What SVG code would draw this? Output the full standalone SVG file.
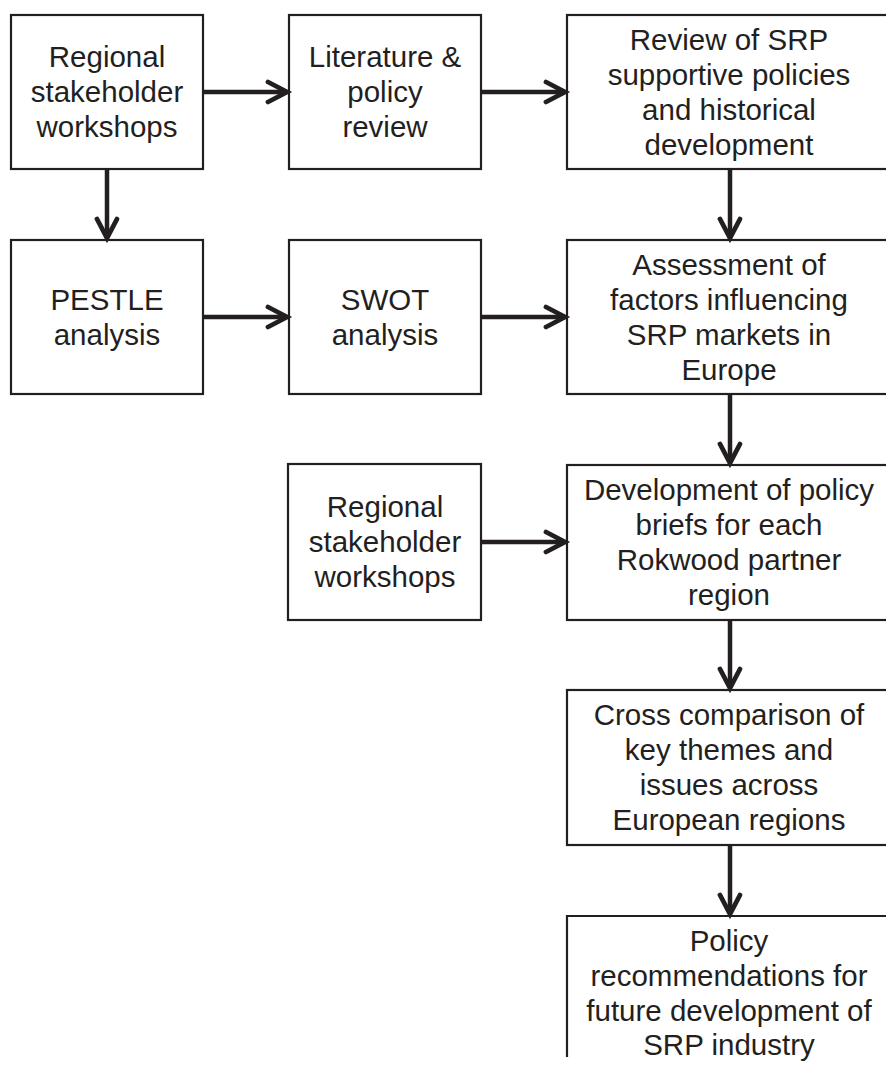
<svg xmlns="http://www.w3.org/2000/svg" width="886" height="1066" viewBox="0 0 886 1066">
<defs>
<style>
.box{fill:#fff;stroke:#231f20;stroke-width:2.2}
.t{font-family:"Liberation Sans",Arial,sans-serif;font-size:29.5px;fill:#231f20;text-anchor:middle}
.c{stroke:#231f20;stroke-width:4.5;fill:none}
.h{stroke:#231f20;stroke-width:4.8;fill:none;stroke-linecap:round;stroke-linejoin:miter}
</style>
</defs>
<rect width="886" height="1066" fill="#fff"/>
<g id="n1"><rect class="box" x="11" y="15" width="192" height="154"/>
<text class="t" x="107" y="67">Regional</text><text class="t" x="107" y="102">stakeholder</text><text class="t" x="107" y="137">workshops</text></g>
<g id="n2"><rect class="box" x="289" y="15" width="192" height="154"/>
<text class="t" x="385" y="67">Literature &amp;</text><text class="t" x="385" y="102">policy</text><text class="t" x="385" y="137">review</text></g>
<g id="n3"><rect class="box" x="567" y="15" width="330" height="154"/>
<text class="t" x="729" y="50">Review of SRP</text><text class="t" x="729" y="85">supportive policies</text><text class="t" x="729" y="120">and historical</text><text class="t" x="729" y="155">development</text></g>
<g id="n4"><rect class="box" x="11" y="240" width="192" height="154"/>
<text class="t" x="107" y="310">PESTLE</text><text class="t" x="107" y="345">analysis</text></g>
<g id="n5"><rect class="box" x="289" y="240" width="192" height="154"/>
<text class="t" x="385" y="310">SWOT</text><text class="t" x="385" y="345">analysis</text></g>
<g id="n6"><rect class="box" x="567" y="240" width="330" height="154"/>
<text class="t" x="729" y="275">Assessment of</text><text class="t" x="729" y="310">factors influencing</text><text class="t" x="729" y="345">SRP markets in</text><text class="t" x="729" y="380">Europe</text></g>
<g id="n7"><rect class="box" x="288" y="464" width="193" height="156"/>
<text class="t" x="385" y="517">Regional</text><text class="t" x="385" y="552">stakeholder</text><text class="t" x="385" y="587">workshops</text></g>
<g id="n8"><rect class="box" x="567" y="465" width="330" height="155"/>
<text class="t" x="729" y="500">Development of policy</text><text class="t" x="729" y="535">briefs for each</text><text class="t" x="729" y="570">Rokwood partner</text><text class="t" x="729" y="605">region</text></g>
<g id="n9"><rect class="box" x="567" y="690" width="330" height="155"/>
<text class="t" x="729" y="725">Cross comparison of</text><text class="t" x="729" y="760">key themes and</text><text class="t" x="729" y="795">issues across</text><text class="t" x="729" y="830">European regions</text></g>
<g id="n10"><path class="box" d="M567,1057 V916 H897 V1057" fill="none"/>
<text class="t" x="729" y="951">Policy</text><text class="t" x="729" y="986">recommendations for</text><text class="t" x="729" y="1021">future development of</text><text class="t" x="729" y="1055">SRP industry</text></g>
<g id="connectors">
<line class="c" x1="203" y1="92" x2="287" y2="92"/><path class="h" d="M268,82 L287,92 L268,102"/>
<line class="c" x1="481" y1="92" x2="565" y2="92"/><path class="h" d="M546,82 L565,92 L546,102"/>
<line class="c" x1="107" y1="169" x2="107" y2="238"/><path class="h" d="M97,219 L107,238 L117,219"/>
<line class="c" x1="730" y1="169" x2="730" y2="238"/><path class="h" d="M720,219 L730,238 L740,219"/>
<line class="c" x1="203" y1="317" x2="287" y2="317"/><path class="h" d="M268,307 L287,317 L268,327"/>
<line class="c" x1="481" y1="317" x2="565" y2="317"/><path class="h" d="M546,307 L565,317 L546,327"/>
<line class="c" x1="730" y1="394" x2="730" y2="463"/><path class="h" d="M720,444 L730,463 L740,444"/>
<line class="c" x1="481" y1="542" x2="565" y2="542"/><path class="h" d="M546,532 L565,542 L546,552"/>
<line class="c" x1="730" y1="620" x2="730" y2="688"/><path class="h" d="M720,669 L730,688 L740,669"/>
<line class="c" x1="730" y1="845" x2="730" y2="914"/><path class="h" d="M720,895 L730,914 L740,895"/>
</g>
</svg>
